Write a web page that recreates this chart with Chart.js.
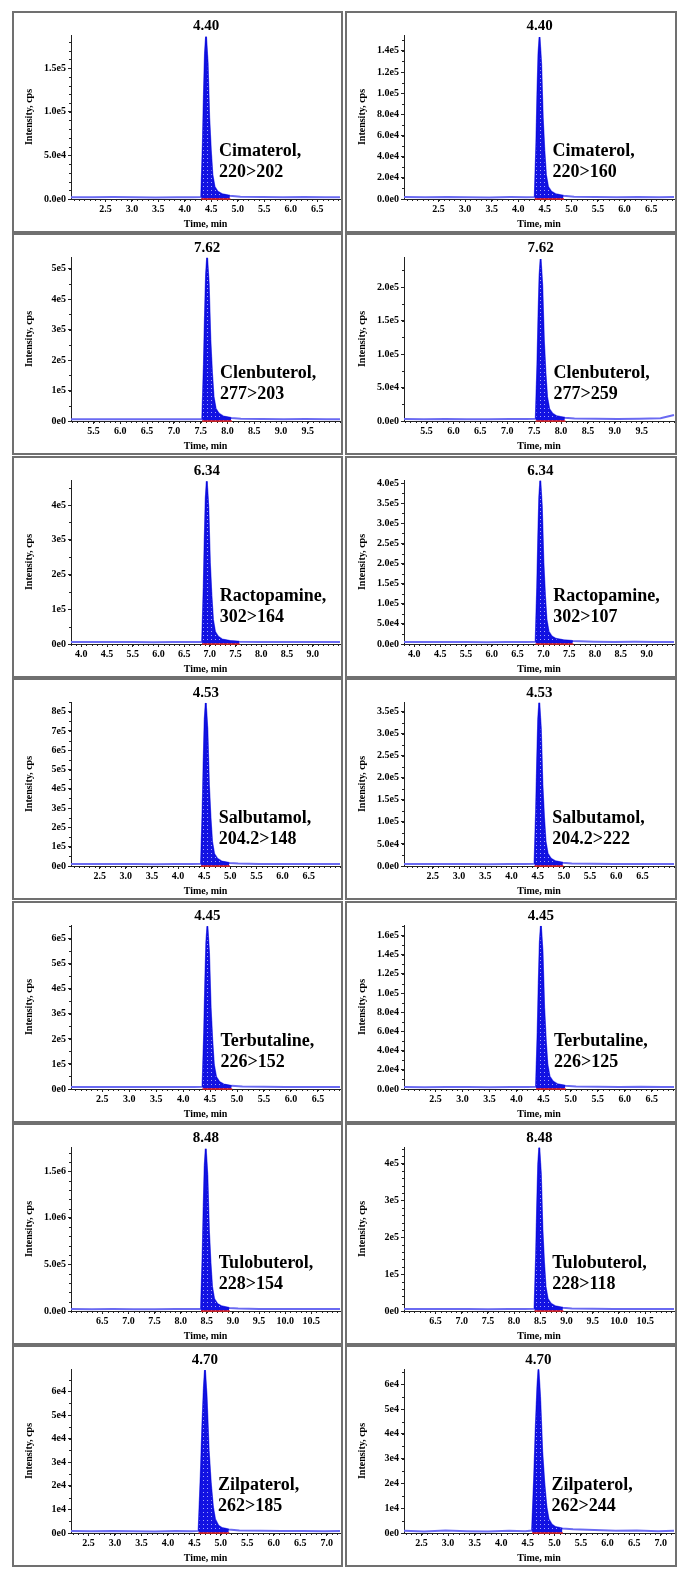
<!DOCTYPE html>
<html>
<head>
<meta charset="utf-8">
<script src="https://cdn.jsdelivr.net/npm/chart.js@4.4.0/dist/chart.umd.min.js"></script>
<style>
  body { margin: 0; background: #fff; }
  #page { position: relative; width: 688px; height: 1584px; }
  .panel { position: absolute; box-sizing: border-box; border: 2px solid #707070; background: #fff; }
  .panel canvas { display: block; }
</style>
</head>
<body>
<div id="page"></div>
<script>
// ---- data ----
const compounds = ['Cimaterol', 'Clenbuterol', 'Ractopamine', 'Salbutamol', 'Terbutaline', 'Tulobuterol', 'Zilpaterol'];
const rtText = ['4.40', '7.62', '6.34', '4.53', '4.45', '8.48', '4.70'];
const rtValue = [4.40, 7.62, 6.34, 4.53, 4.45, 8.48, 4.70];
const transLeft = ['220>202', '277>203', '302>164', '204.2>148', '226>152', '228>154', '262>185'];
const transRight = ['220>160', '277>259', '302>107', '204.2>222', '226>125', '228>118', '262>244'];

// time axis range of each row (min)
const xRange = [[1.85, 6.93], [5.08, 10.1], [3.7, 8.93], [1.95, 7.1], [1.92, 6.91], [5.9, 11.05], [2.17, 7.25]];
// integration window (red baseline) of each row
const peakWindow = [[4.31, 4.86], [7.53, 8.08], [6.25, 6.98], [4.44, 4.99], [4.36, 4.91], [8.39, 8.94], [4.58, 5.16]];

// x tick positions and the text printed under them
const xTickVals = [
  [2.5, 3.0, 3.5, 4.0, 4.5, 5.0, 5.5, 6.0, 6.5],
  [5.5, 6.0, 6.5, 7.0, 7.5, 8.0, 8.5, 9.0, 9.5],
  [3.9, 4.4, 4.9, 5.4, 5.9, 6.4, 6.9, 7.4, 7.9, 8.4],
  [2.5, 3.0, 3.5, 4.0, 4.5, 5.0, 5.5, 6.0, 6.5],
  [2.5, 3.0, 3.5, 4.0, 4.5, 5.0, 5.5, 6.0, 6.5],
  [6.5, 7.0, 7.5, 8.0, 8.5, 9.0, 9.5, 10.0, 10.5],
  [2.5, 3.0, 3.5, 4.0, 4.5, 5.0, 5.5, 6.0, 6.5, 7.0]
];
const xTickText = [
  ['2.5', '3.0', '3.5', '4.0', '4.5', '5.0', '5.5', '6.0', '6.5'],
  ['5.5', '6.0', '6.5', '7.0', '7.5', '8.0', '8.5', '9.0', '9.5'],
  ['4.0', '4.5', '5.5', '6.0', '6.5', '7.0', '7.5', '8.0', '8.5', '9.0'],
  ['2.5', '3.0', '3.5', '4.0', '4.5', '5.0', '5.5', '6.0', '6.5'],
  ['2.5', '3.0', '3.5', '4.0', '4.5', '5.0', '5.5', '6.0', '6.5'],
  ['6.5', '7.0', '7.5', '8.0', '8.5', '9.0', '9.5', '10.0', '10.5'],
  ['2.5', '3.0', '3.5', '4.0', '4.5', '5.0', '5.5', '6.0', '6.5', '7.0']
];

// sampled times per compound (min)
const timeCim  = [1.85, 2.25, 2.65, 3.05, 3.45, 3.85, 4.15, 4.31, 4.34, 4.36, 4.38, 4.40, 4.43, 4.46, 4.49, 4.52, 4.56, 4.62, 4.70, 4.85, 5.05, 5.45, 5.85, 6.25, 6.65, 6.93];
const timeClen = [5.08, 5.45, 5.85, 6.25, 6.65, 7.05, 7.35, 7.53, 7.56, 7.58, 7.60, 7.62, 7.65, 7.68, 7.71, 7.74, 7.78, 7.84, 7.92, 8.07, 8.25, 8.65, 9.05, 9.45, 9.85, 10.1];
const timeRac  = [3.70, 4.10, 4.50, 4.90, 5.30, 5.70, 6.05, 6.25, 6.28, 6.30, 6.32, 6.34, 6.37, 6.40, 6.43, 6.46, 6.50, 6.56, 6.64, 6.79, 6.97, 7.37, 7.77, 8.17, 8.57, 8.93];
const timeSal  = [1.95, 2.35, 2.75, 3.15, 3.55, 3.95, 4.25, 4.44, 4.47, 4.49, 4.51, 4.53, 4.56, 4.59, 4.62, 4.65, 4.69, 4.75, 4.83, 4.98, 5.15, 5.55, 5.95, 6.35, 6.75, 7.1];
const timeTer  = [1.92, 2.30, 2.70, 3.10, 3.50, 3.90, 4.20, 4.36, 4.39, 4.41, 4.43, 4.45, 4.48, 4.51, 4.54, 4.57, 4.61, 4.67, 4.75, 4.90, 5.10, 5.50, 5.90, 6.30, 6.70, 6.91];
const timeTul  = [5.90, 6.30, 6.70, 7.10, 7.50, 7.90, 8.20, 8.39, 8.42, 8.44, 8.46, 8.48, 8.51, 8.54, 8.57, 8.60, 8.64, 8.70, 8.78, 8.93, 9.10, 9.50, 9.90, 10.3, 10.7, 11.05];
const timeZil  = [2.17, 2.55, 2.95, 3.35, 3.75, 4.15, 4.45, 4.58, 4.62, 4.65, 4.68, 4.70, 4.73, 4.77, 4.81, 4.85, 4.89, 4.95, 5.02, 5.15, 5.35, 5.75, 6.15, 6.55, 6.95, 7.25];

// intensities (cps)
const cps220_202 = [2100, 1900, 2200, 2000, 1800, 2100, 2000, 2300, 64000, 120000, 167000, 186000, 156000, 93000, 56000, 28000, 14000, 8400, 5600, 3700, 2600, 2200, 2000, 2300, 1900, 2100];
const cps220_160 = [1800, 1600, 1900, 1700, 1500, 1800, 1700, 1900, 52000, 99000, 137000, 153000, 128000, 77000, 46000, 23000, 11500, 7000, 4600, 3000, 2200, 1900, 1700, 1900, 1600, 1800];
const cps277_203 = [5800, 5500, 6000, 5600, 5400, 5900, 5700, 6200, 185000, 345000, 480000, 535000, 450000, 268000, 160000, 80000, 40000, 24000, 15000, 10000, 7500, 6400, 6000, 6300, 5900, 6100];
const cps277_259 = [3000, 2600, 3100, 2800, 2700, 3000, 2900, 3200, 84000, 156000, 217000, 242000, 203000, 121000, 72000, 36000, 18000, 11000, 7000, 4800, 3700, 3200, 3000, 3300, 4200, 9000];
const cps302_164 = [5700, 5400, 5800, 5500, 5300, 5700, 5600, 6000, 162000, 302000, 420000, 468000, 393000, 234000, 140000, 70000, 35000, 21000, 13000, 8800, 6800, 6000, 5700, 5900, 5500, 5700];
const cps302_107 = [5000, 4700, 5100, 4800, 4600, 5000, 4900, 5300, 141000, 262000, 365000, 406000, 341000, 203000, 122000, 61000, 31000, 19000, 13000, 9500, 7400, 5800, 5100, 5300, 4900, 5000];
const cps204_148 = [10500, 9800, 10400, 10000, 9600, 10300, 10100, 11000, 292000, 545000, 760000, 845000, 710000, 423000, 253000, 127000, 63000, 38000, 24000, 16000, 12500, 11000, 10400, 10800, 10000, 10300];
const cps204_222 = [4600, 4300, 4700, 4400, 4200, 4600, 4500, 4900, 128000, 238000, 333000, 370000, 311000, 185000, 111000, 56000, 28000, 17000, 11000, 7500, 5800, 5000, 4600, 4800, 4400, 4600];
const cps226_152 = [8000, 7600, 8100, 7800, 7500, 8000, 7900, 8500, 225000, 420000, 585000, 650000, 546000, 325000, 195000, 97000, 49000, 29000, 18500, 12500, 9800, 8600, 8100, 8400, 7800, 8000];
const cps226_125 = [2100, 1900, 2200, 2000, 1900, 2100, 2000, 2300, 59000, 110000, 153000, 170000, 143000, 85000, 51000, 25500, 13000, 8000, 5000, 3500, 2700, 2300, 2100, 2400, 2000, 2200];
const cps228_154 = [21000, 19500, 20800, 20000, 19200, 20600, 20300, 22000, 600000, 1120000, 1560000, 1740000, 1460000, 870000, 520000, 260000, 130000, 78000, 50000, 33000, 26000, 22500, 21000, 21800, 20200, 20700];
const cps228_118 = [5500, 5100, 5600, 5300, 5000, 5500, 5400, 5900, 153000, 285000, 398000, 443000, 372000, 222000, 133000, 66000, 33000, 20000, 13000, 8800, 6800, 6000, 5500, 5700, 5300, 5500];
const cps262_185 = [850, 700, 900, 780, 650, 820, 760, 900, 24000, 45000, 62000, 69000, 58000, 35000, 21000, 11000, 5800, 3200, 2100, 1500, 1100, 950, 850, 900, 760, 820];
const cps262_244 = [900, 650, 1000, 720, 600, 950, 700, 1000, 23000, 43000, 59000, 66000, 55000, 33000, 20000, 10500, 5600, 3400, 2400, 1800, 1500, 1200, 950, 1000, 700, 900];

// y tick labels and axis tops per panel
const yt220_202 = ['0.0e0', '5.0e4', '1.0e5', '1.5e5'];
const yt220_160 = ['0.0e0', '2.0e4', '4.0e4', '6.0e4', '8.0e4', '1.0e5', '1.2e5', '1.4e5'];
const yt277_203 = ['0e0', '1e5', '2e5', '3e5', '4e5', '5e5'];
const yt277_259 = ['0.0e0', '5.0e4', '1.0e5', '1.5e5', '2.0e5'];
const yt302_164 = ['0e0', '1e5', '2e5', '3e5', '4e5'];
const yt302_107 = ['0.0e0', '5.0e4', '1.0e5', '1.5e5', '2.0e5', '2.5e5', '3.0e5', '3.5e5', '4.0e5'];
const yt204_148 = ['0e0', '1e5', '2e5', '3e5', '4e5', '5e5', '6e5', '7e5', '8e5'];
const yt204_222 = ['0.0e0', '5.0e4', '1.0e5', '1.5e5', '2.0e5', '2.5e5', '3.0e5', '3.5e5'];
const yt226_152 = ['0e0', '1e5', '2e5', '3e5', '4e5', '5e5', '6e5'];
const yt226_125 = ['0.0e0', '2.0e4', '4.0e4', '6.0e4', '8.0e4', '1.0e5', '1.2e5', '1.4e5', '1.6e5'];
const yt228_154 = ['0.0e0', '5.0e5', '1.0e6', '1.5e6'];
const yt228_118 = ['0e0', '1e5', '2e5', '3e5', '4e5'];
const yt262_185 = ['0e0', '1e4', '2e4', '3e4', '4e4', '5e4', '6e4'];
const yt262_244 = ['0e0', '1e4', '2e4', '3e4', '4e4', '5e4', '6e4'];
const yTopLeft = [1.88e5, 5.38e5, 4.72e5, 8.5e5, 6.55e5, 1.76e6, 6.95e4];
const yTopRight = [1.55e5, 2.45e5, 4.08e5, 3.72e5, 1.71e5, 4.45e5, 6.62e4];

const rowTimes = [timeCim, timeClen, timeRac, timeSal, timeTer, timeTul, timeZil];
const leftCps = [cps220_202, cps277_203, cps302_164, cps204_148, cps226_152, cps228_154, cps262_185];
const rightCps = [cps220_160, cps277_259, cps302_107, cps204_222, cps226_125, cps228_118, cps262_244];
const leftTicks = [yt220_202, yt277_203, yt302_164, yt204_148, yt226_152, yt228_154, yt262_185];
const rightTicks = [yt220_160, yt277_259, yt302_107, yt204_222, yt226_125, yt228_118, yt262_244];

// ---- drawing ----
const FONT = '"Liberation Serif", "Times New Roman", serif';
Chart.defaults.font.family = FONT;
Chart.defaults.font.weight = 'bold';
Chart.defaults.font.size = 10;
Chart.defaults.color = '#000';

// RT above the peak and compound name beside it
const peakText = {
    id: 'peakText',
    afterDraw(chart, args, opts) {
        const { ctx, chartArea } = chart;
        const px = chart.scales.x.getPixelForValue(opts.rt);
        ctx.save();
        ctx.fillStyle = '#000';
        ctx.textBaseline = 'middle';
        ctx.textAlign = 'center';
        ctx.font = 'bold 15px ' + FONT;
        ctx.fillText(opts.rtText, px, chartArea.top - 9);
        ctx.textAlign = 'left';
        ctx.font = 'bold 18px ' + FONT;
        ctx.fillText(opts.name + ',', px + 13, chartArea.bottom - 48);
        ctx.fillText(opts.trans, px + 13, chartArea.bottom - 27);
        ctx.restore();
    }
};

// little minor tick marks on both axes
const minorTicks = {
    id: 'minorTicks',
    beforeDatasetsDraw(chart) {
        const { ctx, chartArea } = chart;
        const x = chart.scales.x, y = chart.scales.y;
        ctx.save();
        ctx.strokeStyle = '#222';
        ctx.lineWidth = 1;
        ctx.beginPath();
        for (let v = Math.ceil(x.min * 10) / 10; v <= x.max; v += 0.1) {
            const px = Math.round(x.getPixelForValue(v)) + 0.5;
            ctx.moveTo(px, chartArea.bottom);
            ctx.lineTo(px, chartArea.bottom + 2);
        }
        const t = y.ticks;
        const step = t[1].value - t[0].value;
        const gap = y.getPixelForValue(0) - y.getPixelForValue(step);
        const sub = gap >= 35 ? 5 : 2;
        for (let v = 0; v <= y.max; v += step / sub) {
            const py = Math.round(y.getPixelForValue(v)) + 0.5;
            ctx.moveTo(chartArea.left - 2, py);
            ctx.lineTo(chartArea.left, py);
        }
        ctx.stroke();
        ctx.restore();
    }
};

function makeFill(ctx) {
    const c = document.createElement('canvas');
    c.width = 4; c.height = 4;
    const g = c.getContext('2d');
    g.fillStyle = '#1212e2';
    g.fillRect(0, 0, 4, 4);
    g.fillStyle = 'rgba(190,190,255,0.85)';
    g.fillRect(1, 1, 1, 1);
    return ctx.createPattern(c, 'repeat');
}

function drawPanel(r, side) {
    const page = document.getElementById('page');
    const left = side === 0 ? 12 : 345;
    const width = side === 0 ? 331 : 332;
    const top = Math.round(11 + r * 222.4);
    const height = 222;

    const div = document.createElement('div');
    div.className = 'panel';
    div.style.left = left + 'px';
    div.style.top = top + 'px';
    div.style.width = width + 'px';
    div.style.height = height + 'px';
    const canvas = document.createElement('canvas');
    canvas.width = width - 4;
    canvas.height = height - 4;
    div.appendChild(canvas);
    page.appendChild(div);

    const times = rowTimes[r];
    const cps = side === 0 ? leftCps[r] : rightCps[r];
    const yLabels = side === 0 ? leftTicks[r] : rightTicks[r];
    const win = peakWindow[r];

    const trace = times.map((t, i) => ({ x: t, y: cps[i] }));
    const peak = trace.filter(p => p.x >= win[0] && p.x <= win[1]);

    new Chart(canvas, {
        type: 'line',
        data: {
            datasets: [
                { data: [{ x: win[0], y: 0 }, { x: win[1], y: 0 }], borderColor: '#e8221c', borderWidth: 1.5, pointRadius: 0, order: 0, clip: false },
                { data: peak, borderColor: '#0808dc', borderWidth: 1, backgroundColor: makeFill(canvas.getContext('2d')), fill: 'origin', pointRadius: 0, order: 1, clip: false },
                { data: trace, borderColor: '#6a6af2', borderWidth: 2, pointRadius: 0, fill: false, order: 2, clip: false }
            ]
        },
        options: {
            responsive: false,
            animation: false,
            events: [],
            layout: { padding: { top: 22, right: 1, left: 0, bottom: 0 } },
            plugins: {
                legend: { display: false },
                tooltip: { enabled: false },
                peakText: { rt: rtValue[r], rtText: rtText[r], name: compounds[r], trans: side === 0 ? transLeft[r] : transRight[r] }
            },
            scales: {
                x: {
                    type: 'linear',
                    min: xRange[r][0],
                    max: xRange[r][1],
                    grid: { drawOnChartArea: false, drawTicks: true, tickLength: 3, color: '#222' },
                    border: { display: true, color: '#222', width: 1 },
                    afterBuildTicks: (scale) => { scale.ticks = xTickVals[r].map(v => ({ value: v })); },
                    afterFit: (scale) => { scale.height = 32; },
                    ticks: {
                        autoSkip: false, maxRotation: 0, padding: 1,
                        callback: (v, i) => xTickText[r][i]
                    },
                    title: { display: true, text: 'Time, min', padding: { top: 0, bottom: 1 }, font: { size: 10, weight: 'bold' } }
                },
                y: {
                    min: 0,
                    max: side === 0 ? yTopLeft[r] : yTopRight[r],
                    grid: { drawOnChartArea: false, drawTicks: true, tickLength: 3, color: '#222' },
                    border: { display: true, color: '#222', width: 1 },
                    afterBuildTicks: (scale) => { scale.ticks = yLabels.map(s => ({ value: parseFloat(s) })); },
                    afterFit: (scale) => { scale.width = 57; },
                    ticks: {
                        autoSkip: false, padding: 2,
                        callback: (v, i) => yLabels[i]
                    },
                    title: { display: true, text: 'Intensity, cps', padding: { top: 9, bottom: 0 }, font: { size: 10, weight: 'bold' } }
                }
            }
        },
        plugins: [peakText, minorTicks]
    });
}

document.addEventListener('DOMContentLoaded', () => {
    for (let r = 0; r < 7; r++) {
        drawPanel(r, 0);
        drawPanel(r, 1);
    }
});
</script>
</body>
</html>
